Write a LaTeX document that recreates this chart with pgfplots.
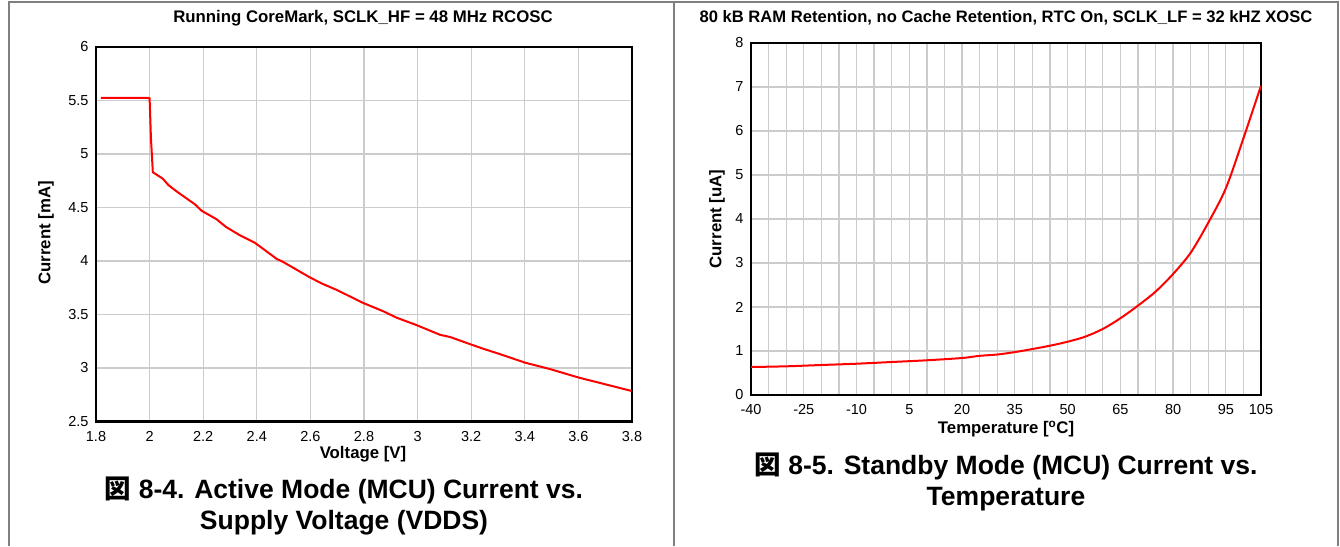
\documentclass[border=0pt]{standalone}
\usepackage{fontspec}
\setmainfont{Liberation Sans}
\newfontfamily\cjk{Noto Sans CJK JP}
\usepackage{pgfplots}
\pgfplotsset{compat=1.18}
\begin{document}
\begin{tikzpicture}
\path (0pt,0pt) rectangle (1340pt,546pt);
\draw[color=gray, line width=1.5pt] (9pt,0pt) -- (9pt,544pt) -- (1338pt,544pt) -- (1338pt,0pt);
\draw[color=gray, line width=1.5pt] (674pt,0pt) -- (674pt,544pt);
\pgfplotsset{
  myaxis/.style={
    scale only axis,
    anchor=south west,
    axis line style={line width=2.5pt, black},
    grid=both,
    grid style={line width=1.3pt, color=black!20},
    minor grid style={line width=1.3pt, color=black!20},
    major tick length=0pt, minor tick length=0pt,
    tick style={draw=none},
    /pgf/number format/assume math mode=true,
    ticklabel style={font=\fontsize{14.5}{16}\selectfont},
    xticklabel style={yshift=-6pt},
    yticklabel style={xshift=-4pt},
  }
}
\begin{axis}[myaxis,
  at={(96pt,124.5pt)}, width=536pt, height=374.5pt,
  xmin=1.8, xmax=3.8, ymin=2.5, ymax=6,
  xtick={1.8,2,2.2,2.4,2.6,2.8,3,3.2,3.4,3.6,3.8},
  xticklabels={1.8,2,2.2,2.4,2.6,2.8,3,3.2,3.4,3.6,3.8},
  ytick={2.5,3,3.5,4,4.5,5,5.5,6},
  yticklabels={2.5,3,3.5,4,4.5,5,5.5,6},
]
\addplot[red, line width=2pt] coordinates {
(1.818,5.525) (1.993,5.525) (2.000,5.52) (2.005,5.15) (2.012,4.83)
(2.049,4.77) (2.070,4.71) (2.101,4.65) (2.169,4.53) (2.194,4.47)
(2.250,4.39) (2.284,4.32) (2.337,4.24) (2.393,4.17) (2.431,4.10)
(2.474,4.02) (2.499,3.99) (2.596,3.85) (2.642,3.79) (2.698,3.73)
(2.795,3.61) (2.872,3.53) (2.922,3.47) (2.997,3.40) (3.084,3.31)
(3.121,3.29) (3.199,3.22) (3.245,3.18) (3.307,3.13) (3.401,3.05)
(3.494,2.99) (3.602,2.91) (3.681,2.86) (3.799,2.785)
};
\end{axis}
\begin{axis}[myaxis,
  at={(751pt,151pt)}, width=510pt, height=352pt,
  xmin=-40, xmax=105, ymin=0, ymax=8,
  xtick={-40,-25,-10,5,20,35,50,65,80,95,105},
  xticklabels={-40,-25,-10,5,20,35,50,65,80,95,105},
  minor xtick={-35,-30,-20,-15,-5,0,10,15,25,30,40,45,55,60,70,75,85,90,100},
  ytick={0,1,2,3,4,5,6,7,8},
  yticklabels={0,1,2,3,4,5,6,7,8},
]
\addplot[red, line width=2pt, smooth] coordinates {
(-40,0.636) (-30,0.652) (-20,0.682) (-10,0.711) (0,0.75) (10,0.789)
(20,0.841) (25,0.89) (30,0.92) (35,0.975) (40,1.045) (45,1.12) (50,1.211)
(55,1.325) (60,1.5) (65,1.743) (70,2.03) (75,2.348) (80,2.75)
(85,3.234) (90,3.916) (95,4.698) (100,5.834) (105,7.03)
};
\end{axis}
\node[font=\fontsize{16.8}{18}\selectfont\bfseries] at (363pt,528pt) {Running CoreMark, SCLK\_HF = 48 MHz RCOSC};
\node[font=\fontsize{16.6}{18}\selectfont\bfseries] at (1006pt,528pt) {80 kB RAM Retention, no Cache Retention, RTC On, SCLK\_LF = 32 kHZ XOSC};
\node[font=\fontsize{16.8}{18}\selectfont\bfseries] at (363pt,92pt) {Voltage [V]};
\node[font=\fontsize{16.8}{18}\selectfont\bfseries] at (1006pt,117pt) {Temperature [\textsuperscript{o}C]};
\node[font=\fontsize{16.8}{18}\selectfont\bfseries, rotate=90] at (46pt,313pt) {Current [mA]};
\node[font=\fontsize{16.8}{18}\selectfont\bfseries, rotate=90] at (717pt,327pt) {Current [uA]};
\node[font=\fontsize{26.5}{31.5}\selectfont\bfseries, align=center] at (344pt,40pt) {{\cjk\bfseries 図} 8-4. Active Mode (MCU) Current vs.\\Supply Voltage (VDDS)};
\node[font=\fontsize{26.5}{31}\selectfont\bfseries, align=center] at (1006pt,64.5pt) {{\cjk\bfseries 図} 8-5. Standby Mode (MCU) Current vs.\\Temperature};
\end{tikzpicture}
\end{document}
